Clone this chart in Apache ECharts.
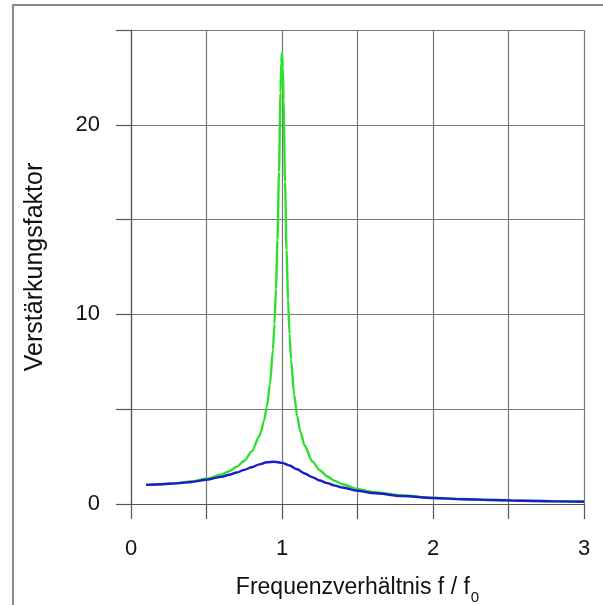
<!DOCTYPE html>
<html>
<head>
<meta charset="utf-8">
<script src="https://cdn.jsdelivr.net/npm/echarts@6/dist/echarts.min.js"></script>
<style>
  html, body { margin: 0; padding: 0; background: #fff; }
  #chart { width: 603px; height: 605px; }
</style>
</head>
<body>
<div id="chart"></div>
<script>
// Frequency ratio f/f0 and amplification factor, weakly damped (green)
const ratioGreen = [0.1, 0.2, 0.3, 0.4, 0.5, 0.6, 0.65, 0.7, 0.75, 0.8, 0.85, 0.86, 0.88, 0.9, 0.92, 0.94, 0.95, 0.96, 0.97, 0.98, 0.99, 0.995, 1.0,
  1.005, 1.01, 1.02, 1.03, 1.04, 1.05, 1.06, 1.08, 1.1, 1.12, 1.15, 1.2, 1.25, 1.3, 1.35, 1.4, 1.5, 1.6, 1.8, 2.0, 2.2, 2.4, 2.6, 2.8, 3.0];
const gainGreen = [1.01, 1.04, 1.10, 1.19, 1.33, 1.56, 1.73, 1.96, 2.28, 2.77, 3.57, 3.80, 4.37, 5.16, 6.31, 8.14, 9.50, 11.34, 13.93, 17.51, 21.69, 23.28, 23.8,
  23.05, 21.30, 16.98, 13.39, 10.80, 8.96, 7.61, 5.80, 4.65, 3.87, 3.07, 2.26, 1.78, 1.45, 1.22, 1.04, 0.80, 0.64, 0.45, 0.33, 0.26, 0.21, 0.17, 0.15, 0.13];

// Strongly damped (blue)
const ratioBlue = [0.1, 0.2, 0.3, 0.4, 0.5, 0.6, 0.65, 0.7, 0.75, 0.8, 0.85, 0.9, 0.95, 1.0, 1.05, 1.1, 1.15, 1.2, 1.25, 1.3, 1.35, 1.4, 1.5,
  1.6, 1.8, 2.0, 2.2, 2.4, 2.6, 2.8, 3.0];
const gainBlue = [1.01, 1.04, 1.09, 1.16, 1.28, 1.44, 1.54, 1.66, 1.80, 1.94, 2.09, 2.20, 2.23, 2.17, 2.03, 1.83, 1.61, 1.42, 1.24, 1.10, 0.97, 0.87, 0.70,
  0.58, 0.42, 0.32, 0.25, 0.21, 0.17, 0.14, 0.12];

const xLabels = [0, 1, 2, 3];
const yLabels = [0, 10, 20];

const pairs = (xs, ys) => xs.map((x, i) => [x, ys[i]]);

const chart = echarts.init(document.getElementById('chart'), null, { renderer: 'canvas' });
const font = '"Liberation Sans", Arial, sans-serif';

chart.setOption({
  animation: false,
  backgroundColor: '#fff',
  graphic: [{
    type: 'rect',
    shape: { x: 13, y: 5, width: 620, height: 640 },
    style: { fill: 'none', stroke: '#8a8a8a', lineWidth: 2 },
    silent: true
  }],
  grid: { left: 131, right: 19, top: 30, bottom: 101, outerBoundsMode: 'none', containLabel: false },
  xAxis: {
    type: 'value', min: 0, max: 3, interval: 0.5,
    name: '{t|Frequenzverhältnis f / f}{s|0}',
    nameLocation: 'middle', nameGap: 72,
    nameTextStyle: {
      rich: {
        t: { fontFamily: font, fontSize: 23, color: '#111' },
        s: { fontFamily: font, fontSize: 15, color: '#111', verticalAlign: 'bottom', padding: [0, 0, -6, 1] }
      }
    },
    axisLine: { show: true, onZero: false, lineStyle: { color: '#555', width: 1.2 } },
    axisTick: { show: true, length: 15, inside: false, lineStyle: { color: '#555', width: 1.2 } },
    axisLabel: {
      fontFamily: font, fontSize: 22, color: '#111', margin: 34,
      formatter: v => (xLabels.includes(v) ? String(v) : '')
    },
    splitLine: { show: true, lineStyle: { color: '#777', width: 1.2 } }
  },
  yAxis: {
    type: 'value', min: 0, max: 25, interval: 5,
    name: 'Verstärkungsfaktor',
    nameLocation: 'middle', nameGap: 83,
    nameTextStyle: { fontFamily: font, fontSize: 25, color: '#111' },
    axisLine: { show: true, lineStyle: { color: '#555', width: 1.2 } },
    axisTick: { show: true, length: 15, lineStyle: { color: '#555', width: 1.2 } },
    axisLabel: {
      fontFamily: font, fontSize: 22, color: '#111', margin: 31,
      formatter: v => (yLabels.includes(v) ? String(v) : '')
    },
    splitLine: { show: true, lineStyle: { color: '#777', width: 1.2 } }
  },
  series: [
    {
      type: 'line', data: pairs(ratioGreen, gainGreen), smooth: 0.25, smoothMonotone: 'x',
      showSymbol: false, lineStyle: { color: '#2ee02e', width: 2.4 }, z: 3
    },
    {
      type: 'line', data: pairs(ratioBlue, gainBlue), smooth: 0.3, smoothMonotone: 'x',
      showSymbol: false, lineStyle: { color: '#1c1cc8', width: 2.4 }, z: 4
    }
  ]
});
</script>
</body>
</html>
